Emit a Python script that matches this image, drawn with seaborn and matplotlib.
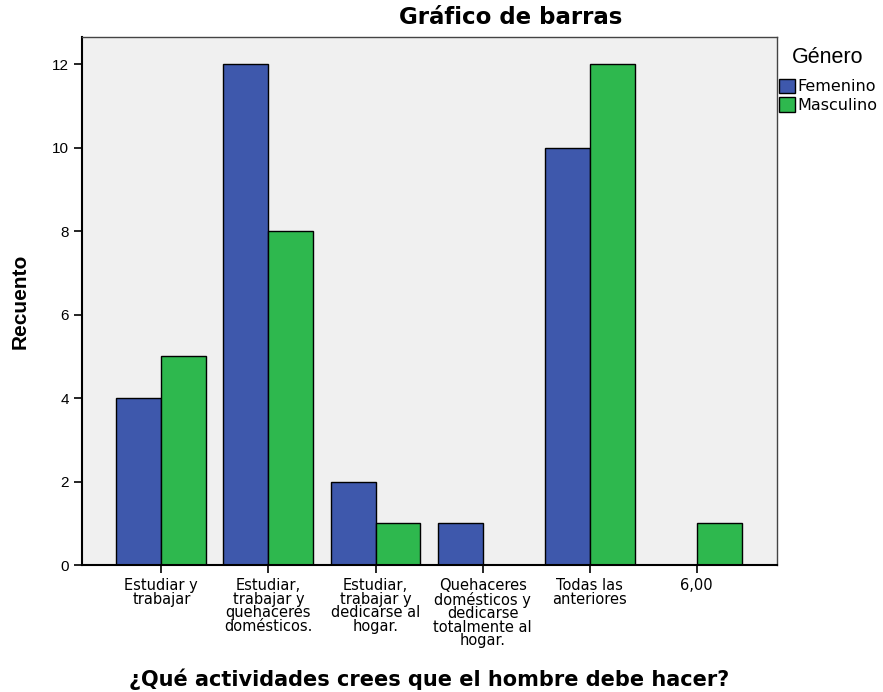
import pandas as pd
import numpy as np
import matplotlib.pyplot as plt
import seaborn as sns

# data
categorias = ["Estudiar y\ntrabajar",
              "Estudiar,\ntrabajar y\nquehaceres\ndomésticos.",
              "Estudiar,\ntrabajar y\ndedicarse al\nhogar.",
              "Quehaceres\ndomésticos y\ndedicarse\ntotalmente al\nhogar.",
              "Todas las\nanteriores",
              "6,00"]
femenino = [4, 12, 2, 1, 10, 0]
masculino = [5, 8, 1, 0, 12, 1]
generos = ["Femenino", "Masculino"]
yticks = [0, 2, 4, 6, 8, 10, 12]

df = pd.DataFrame({
    "cat": categorias * 2,
    "Género": [generos[0]] * len(categorias) + [generos[1]] * len(categorias),
    "Recuento": femenino + masculino,
})

sns.set_style("white")
plt.rcParams['font.family'] = ['Liberation Sans', 'DejaVu Sans']
plt.rcParams['text.color'] = 'black'
plt.rcParams['axes.labelcolor'] = 'black'

fig = plt.figure(figsize=(8.83, 6.92), dpi=100)
ax = fig.add_axes([0.093, 0.1835, 0.787, 0.763])

ax = sns.barplot(data=df, x="cat", y="Recuento", hue="Género", order=categorias,
                 hue_order=generos, palette=["#3E58AC", "#2EB84E"], width=0.84,
                 edgecolor="black", linewidth=1.0, saturation=1, ax=ax)

ax.set_facecolor("#F0F0F0")
ax.set_xlim(-0.74, 5.75)
ax.set_ylim(0, 12.65)
ax.set_yticks(yticks)
ax.tick_params(axis="both", direction="out", length=6, width=1.2, colors="black",
               labelsize=11, left=True, bottom=True)
for s in ax.spines.values():
    s.set_color("#444444")
    s.set_linewidth(1.0)
ax.spines["left"].set_color("black")
ax.spines["bottom"].set_color("black")
ax.spines["left"].set_linewidth(1.5)
ax.spines["bottom"].set_linewidth(1.5)

# title centred over plot + legend, like the SPSS output
fig.text(511 / 883, 1 - 18 / 692, "Gráfico de barras", ha="center", va="center",
         fontsize=16.5, fontweight="bold", family=["DejaVu Sans"])
ax.set_ylabel("Recuento", fontsize=15, fontweight="bold", labelpad=16)
ax.set_xlabel("¿Qué actividades crees que el hombre debe hacer?", fontsize=15,
              fontweight="bold", family=["DejaVu Sans"])
ax.xaxis.set_label_coords(0.5, -0.196)
for lab in ax.get_xticklabels():
    lab.set_family(["DejaVu Sans"])
    lab.set_fontsize(10.5)
    lab.set_linespacing(0.88)

leg = ax.legend(title="Género", loc="upper left", bbox_to_anchor=(1.0, 0.985),
                frameon=False, title_fontsize=15.5,
                prop={"family": ["DejaVu Sans"], "size": 11.5},
                handlelength=1.0, handleheight=1.0, handletextpad=0.15,
                borderaxespad=0.0, borderpad=0.1, labelspacing=0.2)
leg._legend_box.sep = 8

plt.savefig("out.png", dpi=100)
